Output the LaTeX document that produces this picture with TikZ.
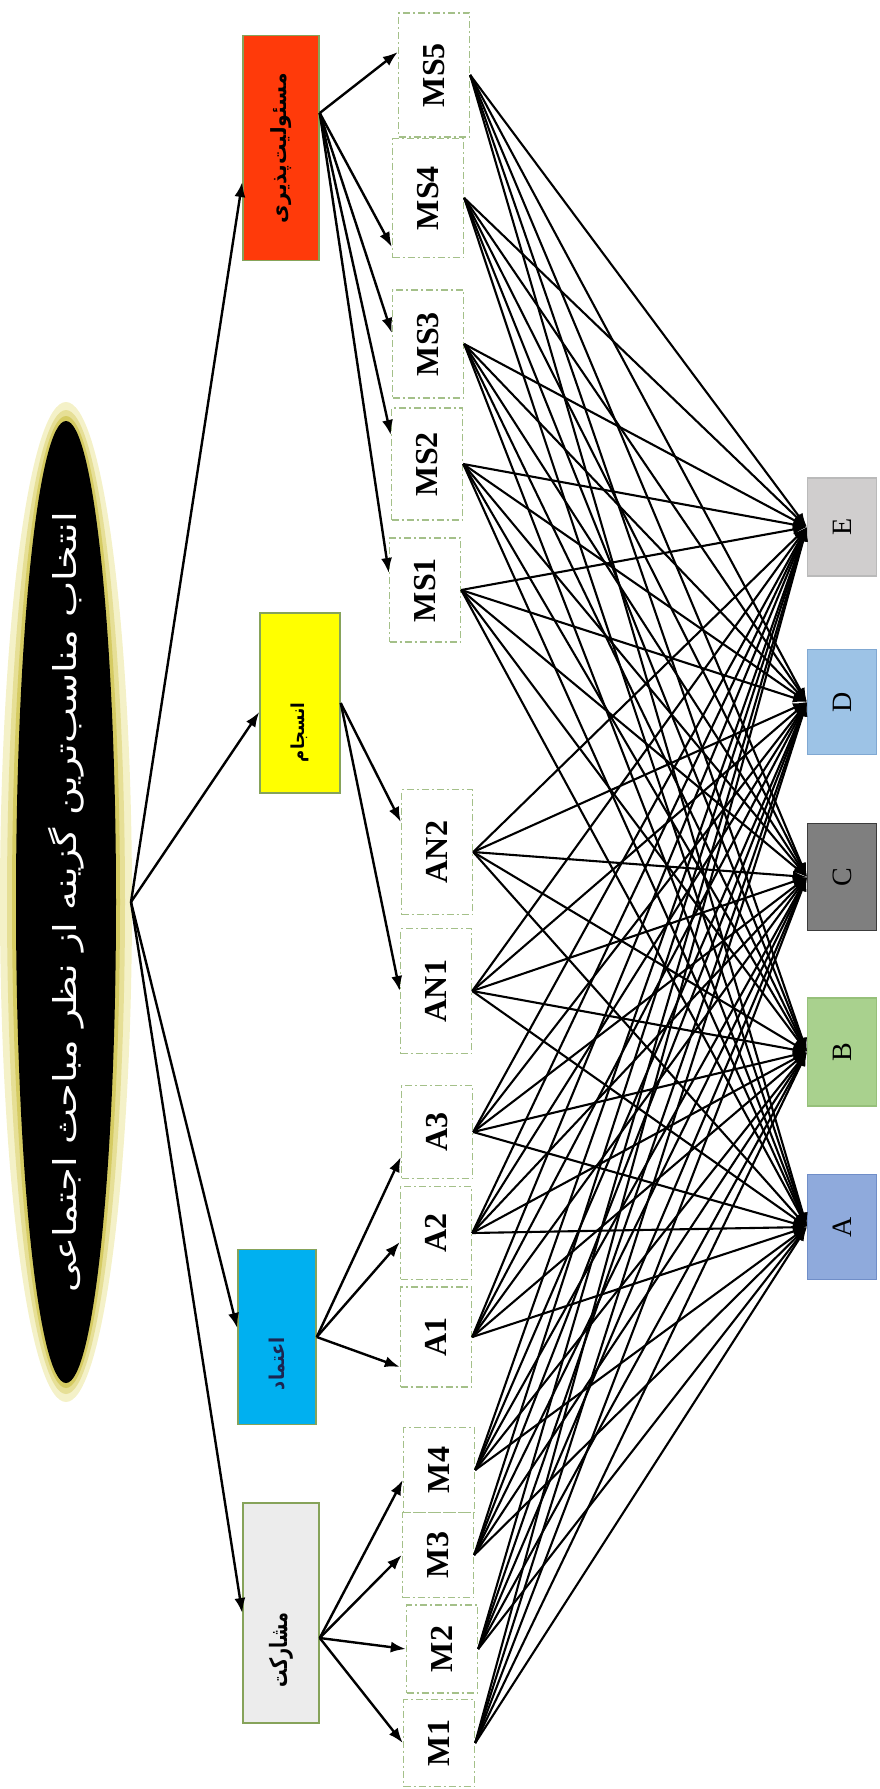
\documentclass[tikz,border=0pt]{standalone}
\usepackage{fontspec}
\usepackage{graphicx}
\setmainfont{Liberation Serif}
\newfontfamily\farsi[Script=Arabic]{DejaVu Sans}
\TeXXeTstate=1
\usetikzlibrary{arrows.meta,positioning}

\definecolor{glowout}{HTML}{F4F1C8}
\definecolor{glowmid}{HTML}{E6DF96}
\definecolor{glowin}{HTML}{D5CB62}
\definecolor{rimgreen}{HTML}{86A35A}
\definecolor{dashgreen}{HTML}{A4C089}
\definecolor{respred}{HTML}{FF3A0A}
\definecolor{cohyel}{HTML}{FFFF00}
\definecolor{trustcyan}{HTML}{00B0F0}
\definecolor{partgray}{HTML}{ECECEC}
\definecolor{navy}{HTML}{1C2550}

% rotated persian labels: centred, or running down from the centre
\newcommand{\fatext}[3]{\rotatebox{90}{\resizebox*{#1}{#2}{\farsi\bfseries\beginR #3\endR}}}
\newcommand{\fadown}[3]{\rotatebox{90}{\llap{\resizebox*{#1}{#2}{\farsi\bfseries\beginR #3\endR}}}}
\newcommand{\up}[1]{\rotatebox{90}{#1}}

\tikzset{
    crit/.style={
           rectangle,
           draw=rimgreen, line width=1.5pt,
           minimum width=76pt,
           inner sep=0pt
           },
    sub/.style={
           rectangle,
           draw=dashgreen, line width=1.4pt,
           dash pattern=on 7pt off 3pt on 2pt off 3pt,
           minimum width=71pt,
           inner sep=0pt,
           font=\fontsize{32}{32}\selectfont\bfseries
           },
    alt/.style={
           rectangle,
           line width=1.2pt,
           minimum width=69pt,
           minimum height=105pt,
           inner sep=0pt,
           font=\fontsize{28}{28}\selectfont
           },
    feed/.style={
           ->, line width=2.4pt
           },
    link/.style={
           -{Latex[length=14pt,width=10pt]}, line width=2.1pt
           }
}

\begin{document}
\begin{tikzpicture}[x=1pt, y=-1pt, >={Latex[length=15pt,width=11pt]}, node distance=175pt, on grid]
   \useasboundingbox (0,0) rectangle (880,1789);

   % goal
   \fill[glowout] (66,902) ellipse [x radius=66pt, y radius=500pt];
   \fill[glowmid] (66,902) ellipse [x radius=59pt, y radius=492pt];
   \fill[glowin] (66,902) ellipse [x radius=54pt, y radius=486pt];
   \fill[black] (66,902) ellipse [x radius=50pt, y radius=481pt];
   \node[white, inner sep=0pt] (goal) at (66,902)
      {\rotatebox{90}{\resizebox*{780pt}{36pt}{\farsi\beginR انتخاب مناسب‌ترین گزینه از نظر مباحث اجتماعی\endR}}};
   \coordinate (r) at (131,902);

   % criteria
   \node[crit, fill=respred, minimum height=225pt] (res) at (281,148) {\fatext{150pt}{21pt}{مسئولیت‌پذیری}};
   \node[crit, fill=cohyel, minimum width=80pt, minimum height=180pt] (coh) at (300,703) {\fadown{59pt}{18pt}{انسجام}};
   \node[crit, fill=trustcyan, minimum width=78pt, minimum height=175pt, text=navy] (tru) at (277,1337) {\fadown{53pt}{16pt}{اعتماد}};
   \node[crit, fill=partgray, minimum height=220pt] (par) at (281,1613) {\fadown{74pt}{24pt}{مشارکت}};

   % sub-criteria
   \node[sub, minimum height=124pt] (ms5) at (434,75) {\up{MS5}};
   \node[sub, minimum height=119pt] (ms4) at (428,198) {\up{MS4}};
   \node[sub, minimum height=108pt] (ms3) at (428,344) {\up{MS3}};
   \node[sub, minimum height=112pt] (ms2) at (427,464) {\up{MS2}};
   \node[sub, minimum height=104pt] (ms1) at (425,590) {\up{MS1}};
   \node[sub, minimum height=125pt] (an2) at (437,852) {\up{AN2}};
   \node[sub, minimum height=125pt] (an1) at (436,991) {\up{AN1}};
   \node[sub, minimum height=93pt] (a3) at (437,1132) {\up{A3}};
   \node[sub, minimum height=93pt] (a2) at (436,1233) {\up{A2}};
   \node[sub, minimum height=100pt] (a1) at (436,1337) {\up{A1}};
   \node[sub, minimum height=85pt] (m4) at (439,1470) {\up{M4}};
   \node[sub, minimum height=85pt] (m3) at (438,1555) {\up{M3}};
   \node[sub, minimum height=88pt] (m2) at (442,1649) {\up{M2}};
   \node[sub, minimum height=87pt] (m1) at (439,1743) {\up{M1}};

   % alternatives
   \node[alt, fill={rgb,255:red,208;green,206;blue,206}, draw={rgb,255:red,186;green,186;blue,186}, minimum height=98pt] (E) at (842,527) {\up{E}};
   \node[alt, fill={rgb,255:red,157;green,195;blue,230}, draw={rgb,255:red,128;green,168;blue,210}] (D) [below=of E] {\up{D}};
   \node[alt, fill={rgb,255:red,127;green,127;blue,127}, draw={rgb,255:red,60;green,60;blue,60}, minimum height=107pt] (C) [below=of D] {\up{C}};
   \node[alt, fill={rgb,255:red,169;green,209;blue,142}, draw={rgb,255:red,150;green,192;blue,122}, minimum height=108pt] (B) [below=of C] {\up{B}};
   \node[alt, fill={rgb,255:red,143;green,170;blue,220}, draw={rgb,255:red,112;green,142;blue,200}] (A) [below=of B] {\up{A}};

   \path[feed]
    (r) edge ([yshift=-34pt]res.west)
    (r) edge ([yshift=-9pt]coh.west)
    (r) edge ([yshift=9pt]tru.west)
    (r) edge (par.west)
    ([yshift=35pt]res.east) edge ([yshift=23pt]ms5.west)
    ([yshift=35pt]res.east) edge ([yshift=-49pt]ms4.west)
    ([yshift=35pt]res.east) edge ([yshift=11pt]ms3.west)
    ([yshift=35pt]res.east) edge ([yshift=29pt]ms2.west)
    ([yshift=35pt]res.east) edge ([yshift=17pt]ms1.west)
    (coh.east) edge ([yshift=30pt]an2.west)
    (coh.east) edge (an1.west)
    (tru.east) edge ([yshift=-25pt]a3.west)
    (tru.east) edge ([yshift=-9pt]a2.west)
    (tru.east) edge ([yshift=-30pt]a1.west)
    ([yshift=-25pt]par.east) edge ([yshift=-10pt]m4.west)
    ([yshift=-25pt]par.east) edge (m3.west)
    ([yshift=-25pt]par.east) edge (m2.west)
    ([yshift=-25pt]par.east) edge (m1.west)
       ;

   % every sub-criterion to every alternative
   \foreach \s in {m1,m2,m3,m4,a1,a2,a3,an1,an2,ms1,ms2,ms3,ms4,ms5}
     \foreach \t in {A,B,C,D,E}
       \draw[link] (\s.east) -- (\t.west);
\end{tikzpicture}
\end{document}
